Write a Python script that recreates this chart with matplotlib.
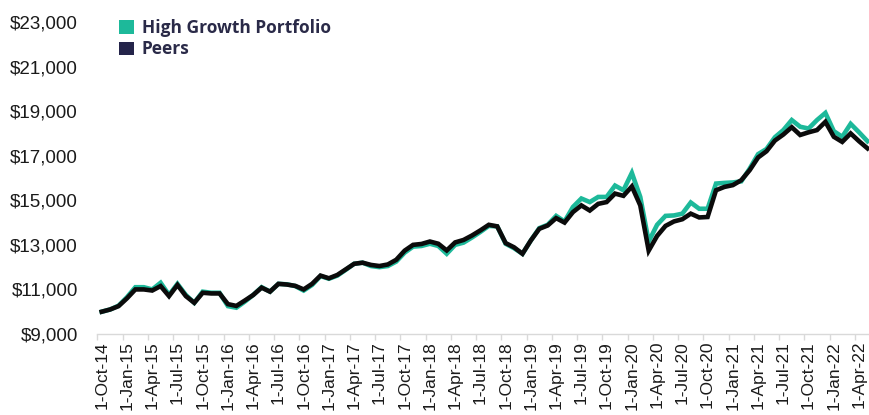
import matplotlib
matplotlib.use("Agg")
import matplotlib.pyplot as plt
from matplotlib.patches import Patch
import numpy as np
import pandas as pd

# Monthly categories, Oct-2014 .. May-2022
months = pd.date_range("2014-10-01", periods=92, freq="MS")
month_labels = [f"1-{d.strftime('%b')}-{d.strftime('%y')}" for d in months]

high_growth = [
    10000, 10100, 10270, 10650, 11100, 11100, 11000, 11300, 10750, 11250,
    10750, 10400, 10900, 10850, 10850, 10250, 10180, 10450, 10750, 11100,
    10900, 11250, 11230, 11150, 10950, 11200, 11600, 11480, 11620, 11880,
    12150, 12200, 12050, 12000, 12050, 12250, 12650, 12920, 12950, 13050,
    12950, 12600, 13000, 13100, 13330, 13580, 13850, 13830, 13050, 12850,
    12600, 13200, 13750, 13900, 14300, 14050, 14700, 15080, 14920, 15150,
    15150, 15660, 15450, 16230, 15150, 13150, 13900, 14300, 14320, 14400,
    14900, 14620, 14620, 15750, 15780, 15800, 15850, 16420, 17070, 17300,
    17830, 18150, 18600, 18300, 18220, 18600, 18920, 18100, 17850, 18430,
    18050, 17650,
]

peers = [
    10000, 10100, 10250, 10600, 11000, 11000, 10950, 11150, 10700, 11200,
    10700, 10400, 10850, 10820, 10820, 10340, 10260, 10500, 10750, 11080,
    10900, 11250, 11220, 11160, 11000, 11250, 11620, 11500, 11650, 11900,
    12150, 12200, 12100, 12050, 12120, 12330, 12740, 13000, 13040, 13150,
    13050, 12750, 13110, 13220, 13420, 13650, 13900, 13830, 13080, 12890,
    12600, 13200, 13720, 13870, 14200, 14000, 14470, 14770, 14540, 14840,
    14920, 15300, 15200, 15620, 14770, 12740, 13400, 13850, 14050, 14150,
    14400, 14230, 14250, 15450, 15600, 15680, 15900, 16350, 16920, 17200,
    17680, 17950, 18280, 17930, 18050, 18150, 18520, 17850, 17620, 18000,
    17650, 17330,
]

series_names = ["High Growth Portfolio", "Peers"]
y_ticks = [9000, 11000, 13000, 15000, 17000, 19000, 21000, 23000]

TEAL = "#1db99a"
LINE_DARK = "#0b0b0b"
NAVY = "#24244a"

W, H = 870, 415
fig = plt.figure(figsize=(W / 100, H / 100), dpi=100)
ax_left, ax_right, ax_top, ax_bottom = 97.5, 870, 22, 334
ax = fig.add_axes([ax_left / W, 1 - ax_bottom / H,
                   (ax_right - ax_left) / W, (ax_bottom - ax_top) / H])

x = np.arange(len(months))
ax.plot(x, high_growth, color=TEAL, lw=3.3, solid_joinstyle="miter", zorder=2)
ax.plot(x, peers, color=LINE_DARK, lw=3.3, solid_joinstyle="miter", zorder=3)

ax.set_xlim(-0.5, 91.3)
ax.set_ylim(y_ticks[0], y_ticks[-1])

ax.set_yticks(y_ticks)
ax.set_yticklabels([f"${v:,}" for v in y_ticks], family="Liberation Sans")
ax.tick_params(axis="y", length=0, pad=14, labelsize=13.5, labelcolor="#1a1a1a")

ax.set_xticks(x[::3])
ax.set_xticklabels(month_labels[::3], rotation=90, family="Liberation Sans")
ax.tick_params(axis="x", which="major", length=0, pad=5, labelsize=12.5,
               labelcolor="#1a1a1a")
ax.set_xticks(x[::3] - 0.5, minor=True)
ax.tick_params(axis="x", which="minor", length=4, width=1, color="#d9d9d9")

for s in ["top", "left", "right"]:
    ax.spines[s].set_visible(False)
ax.spines["bottom"].set_color("#d9d9d9")
ax.spines["bottom"].set_linewidth(1)

handles = [Patch(facecolor=TEAL, edgecolor="none"),
           Patch(facecolor=NAVY, edgecolor="none")]
leg = ax.legend(handles, series_names, loc="upper left",
                bbox_to_anchor=(119 / W, 1 - 19 / H), bbox_transform=fig.transFigure,
                frameon=False, prop=dict(family="Open Sans", weight="bold", size=12.5),
                handlelength=0.85, handleheight=0.85, handletextpad=0.45,
                labelspacing=0.2, borderpad=0, borderaxespad=0)
for t in leg.get_texts():
    t.set_color("#2a2a48")

fig.savefig("out.png", dpi=100)
